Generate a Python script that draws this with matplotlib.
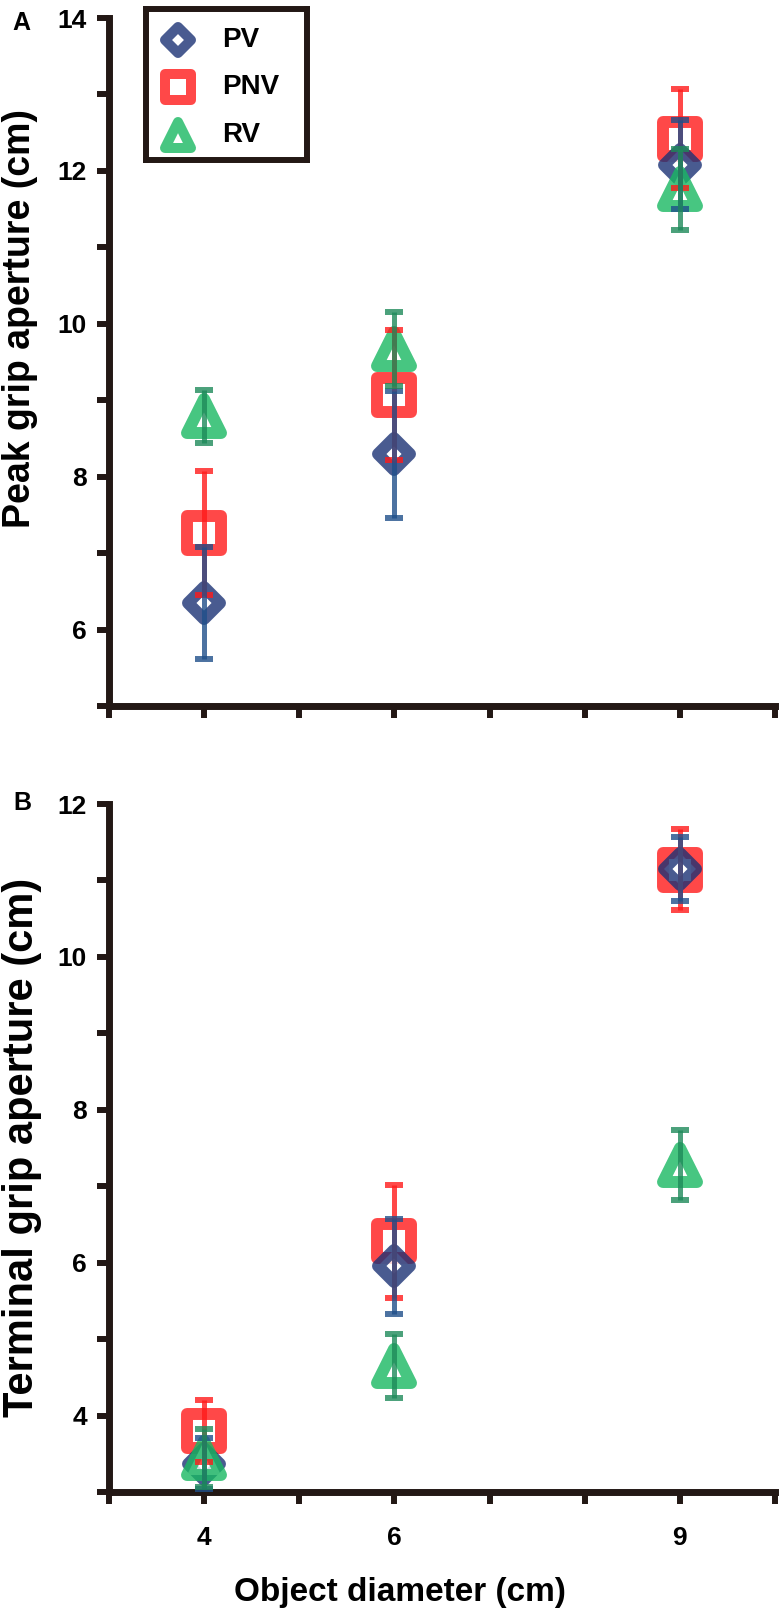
import matplotlib
matplotlib.use("Agg")
import matplotlib.pyplot as plt
from matplotlib.markers import MarkerStyle
from matplotlib.ticker import FixedLocator, NullFormatter

plt.rcParams['font.family'] = ['Liberation Sans', 'DejaVu Sans']
plt.rcParams['font.weight'] = 'bold'

# ---------------- data ----------------
diameters = [4, 6, 9]
series_names = ["PV", "PNV", "RV"]

peak_pv = [6.35, 8.29, 12.08]
peak_pv_err = [0.73, 0.83, 0.58]
peak_pnv = [7.26, 9.07, 12.42]
peak_pnv_err = [0.81, 0.85, 0.65]
peak_rv = [8.79, 9.67, 11.76]
peak_rv_err = [0.35, 0.48, 0.53]

term_pv = [3.37, 5.95, 11.15]
term_pv_err = [0.33, 0.62, 0.42]
term_pnv = [3.80, 6.28, 11.14]
term_pnv_err = [0.41, 0.74, 0.53]
term_rv = [3.45, 4.65, 7.28]
term_rv_err = [0.38, 0.42, 0.46]

# ---------------- style ----------------
INK = '#231815'
marker_colors = {"PV": '#1B3275', "PNV": '#FF1A1A', "RV": '#19B862'}
err_colors = {"PV": '#1F4F8A', "PNV": '#FF1A1A', "RV": '#1E8A5A'}
marker_shapes = {"PV": 'D', "PNV": 's', "RV": '^'}
marker_sizes = {"PV": 16.8, "PNV": 24.5, "RV": 24.5}
MEW = 8.6
ALPHA = 0.8
draw_order = ["PNV", "PV", "RV"]

W, H = 784, 1610
fig = plt.figure(figsize=(W / 100, H / 100), dpi=100)

def frac_axes(l, t, r, b):
    return fig.add_axes([l / W, 1 - b / H, (r - l) / W, (b - t) / H])

axA = frac_axes(109, 18, 775, 706)
axB = frac_axes(109, 804, 775, 1492)

panels = [
    (axA, {"PV": (peak_pv, peak_pv_err), "PNV": (peak_pnv, peak_pnv_err),
           "RV": (peak_rv, peak_rv_err)}, (5, 14)),
    (axB, {"PV": (term_pv, term_pv_err), "PNV": (term_pnv, term_pnv_err),
           "RV": (term_rv, term_rv_err)}, (3, 12)),
]

for ax, data, (ylo, yhi) in panels:
    for name in draw_order:
        vals, errs = data[name]
        ms = MarkerStyle(marker_shapes[name], joinstyle='round')
        ax.plot(diameters, vals, linestyle='none', marker=ms,
                markersize=marker_sizes[name], markerfacecolor='white',
                markeredgecolor=marker_colors[name], markeredgewidth=MEW,
                alpha=ALPHA, zorder=2, clip_on=False)
    for name in draw_order:
        vals, errs = data[name]
        ax.errorbar(diameters, vals, yerr=errs, fmt='none',
                    ecolor=err_colors[name], elinewidth=3.6, capsize=6.2,
                    capthick=4.3, alpha=ALPHA, zorder=3, clip_on=False)
    ax.set_xlim(3, 10)
    ax.set_ylim(ylo, yhi)
    for s in ('top', 'right'):
        ax.spines[s].set_visible(False)
    for s in ('left', 'bottom'):
        ax.spines[s].set_linewidth(5)
        ax.spines[s].set_color(INK)
    ax.yaxis.set_major_locator(FixedLocator(list(range(ylo + (ylo % 2), yhi + 1, 2))))
    ax.yaxis.set_minor_locator(FixedLocator(list(range(ylo + 1 - (ylo % 2), yhi + 1, 2))))
    ax.xaxis.set_major_locator(FixedLocator(diameters))
    ax.xaxis.set_minor_locator(FixedLocator([3, 5, 7, 8, 10]))
    ax.tick_params(which='both', direction='out', length=8.3, width=4.3,
                   color=INK, labelsize=19, labelcolor='black')
    ax.tick_params(axis='y', which='both', pad=7.5)
    ax.tick_params(axis='x', which='both', pad=16)
    for lbl in ax.get_xticklabels() + ax.get_yticklabels():
        lbl.set_fontweight('bold')
    ax.patch.set_visible(False)

axA.xaxis.set_major_formatter(NullFormatter())

# axis labels
fig.text(20 / W, 1 - 318 / H, "Peak grip aperture (cm)", rotation=90,
         ha='center', va='center', fontsize=27, fontweight='bold')
fig.text(22 / W, 1 - 1147 / H, "Terminal grip aperture (cm)", rotation=90,
         ha='center', va='center', fontsize=30, fontweight='bold')
fig.text(400 / W, 1 - 1592 / H, "Object diameter (cm)",
         ha='center', va='center', fontsize=24, fontweight='bold')
fig.text(21 / W, 1 - 23 / H, "A", ha='center', va='center', fontsize=18, fontweight='bold')
fig.text(22 / W, 1 - 803 / H, "B", ha='center', va='center', fontsize=18, fontweight='bold')

# legend box
axL = frac_axes(146, 9, 307, 160)
axL.set_xlim(0, 1)
axL.set_ylim(0, 1)
axL.set_xticks([])
axL.set_yticks([])
for s in axL.spines.values():
    s.set_linewidth(4.3)
    s.set_color(INK)
leg_rows = {"PV": 0.795, "PNV": 0.483, "RV": 0.166}
leg_sizes = {"PV": 13.0, "PNV": 18.7, "RV": 18.7}
for name in series_names:
    ms = MarkerStyle(marker_shapes[name], joinstyle='round')
    axL.plot([0.199], [leg_rows[name]], linestyle='none', marker=ms,
             markersize=leg_sizes[name], markerfacecolor='white',
             markeredgecolor=marker_colors[name], markeredgewidth=7.2,
             alpha=ALPHA)
    axL.text(0.472, leg_rows[name], name, ha='left', va='center',
             fontsize=20, fontweight='bold')

fig.savefig("out.png", dpi=100)
